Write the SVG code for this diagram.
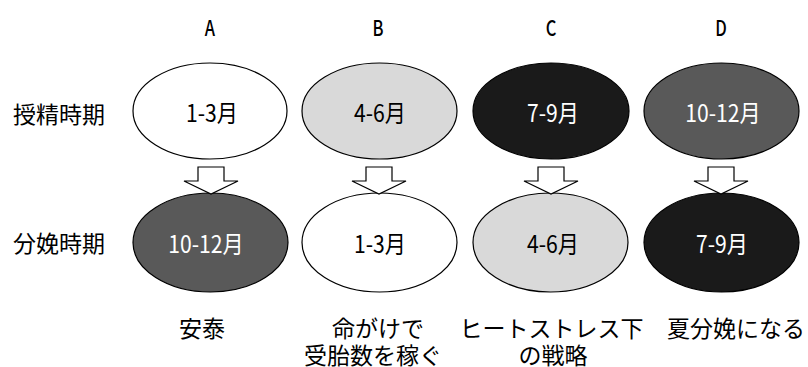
<svg xmlns="http://www.w3.org/2000/svg" width="808" height="367" viewBox="0 0 808 367">
<style>
text{font-family:"Noto Sans CJK JP","Noto Sans",sans-serif;dominant-baseline:central;text-anchor:middle;fill:#000}
.hdr{font-size:22px;font-weight:500}
.row{font-size:23px;text-anchor:start}
.val{font-size:24px}
.inv{fill:#fff}
.note{font-size:23px}
ellipse{stroke:#000;stroke-width:1.2}
.w{fill:#fff}.lg{fill:#d9d9d9}.dg{fill:#595959}.bk{fill:#1a1a1a}
.arrow{fill:#fff;stroke:#000;stroke-width:1.2;stroke-linejoin:miter}
</style>
<rect width="808" height="367" fill="#fff"/>
<g id="headers">
<text class="hdr" transform="translate(210,26) scale(0.75,1)">A</text>
<text class="hdr" transform="translate(378,26) scale(0.75,1)">B</text>
<text class="hdr" transform="translate(551,26) scale(0.75,1)">C</text>
<text class="hdr" transform="translate(721,26) scale(0.75,1)">D</text>
</g>
<g id="row-labels">
<text class="row" x="13" y="113">授精時期</text>
<text class="row" x="13" y="242">分娩時期</text>
</g>
<g id="A-top"><ellipse class="w" cx="210" cy="111" rx="77" ry="48"/><text class="val" transform="translate(212,112) scale(0.88,1)">1-3月</text></g>
<g id="B-top"><ellipse class="lg" cx="379.5" cy="111" rx="77.5" ry="48"/><text class="val" transform="translate(380,112) scale(0.88,1)">4-6月</text></g>
<g id="C-top"><ellipse class="bk" cx="551" cy="111" rx="78" ry="48"/><text class="val inv" transform="translate(553,112) scale(0.88,1)">7-9月</text></g>
<g id="D-top"><ellipse class="dg" cx="721.5" cy="111" rx="77.5" ry="48"/><text class="val inv" transform="translate(723,112) scale(0.88,1)">10-12月</text></g>
<g id="A-bottom"><ellipse class="dg" cx="210.5" cy="242.5" rx="77.5" ry="49.5"/><text class="val inv" transform="translate(206,243) scale(0.88,1)">10-12月</text></g>
<g id="B-bottom"><ellipse class="w" cx="379.5" cy="242.5" rx="77.5" ry="49.5"/><text class="val" transform="translate(380,243) scale(0.88,1)">1-3月</text></g>
<g id="C-bottom"><ellipse class="lg" cx="550.5" cy="242.5" rx="77.5" ry="49.5"/><text class="val" transform="translate(553,243) scale(0.88,1)">4-6月</text></g>
<g id="D-bottom"><ellipse class="bk" cx="721.5" cy="242.5" rx="77.5" ry="49.5"/><text class="val inv" transform="translate(722,243) scale(0.88,1)">7-9月</text></g>
<g id="connectors">
<polygon class="arrow" points="198,167 224,167 224,181 238,181 211,194 184,181 198,181"/>
<polygon class="arrow" points="366,167 392,167 392,181 406,181 379,194 352,181 366,181"/>
<polygon class="arrow" points="538,167 564,167 564,181 578,181 551,194 524,181 538,181"/>
<polygon class="arrow" points="708,167 734,167 734,181 748,181 721,194 694,181 708,181"/>
</g>
<g id="notes">
<text class="note" x="202" y="327">安泰</text>
<text class="note" x="378" y="327">命がけで</text>
<text class="note" x="373" y="354">受胎数を稼ぐ</text>
<text class="note" x="551.5" y="327">ヒートストレス下</text>
<text class="note" x="553" y="354">の戦略</text>
<text class="note" x="736" y="327">夏分娩になる</text>
</g>
</svg>
